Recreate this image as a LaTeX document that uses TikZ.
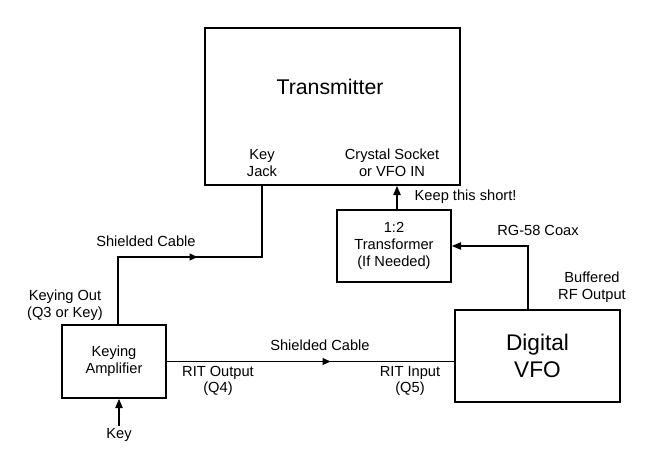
\documentclass[tikz,border=0pt]{standalone}
\usepackage{fontspec}
\setmainfont{Liberation Sans}
\usetikzlibrary{decorations.markings,arrows.meta}
\tikzset{
  blk/.style={draw,line width=1.2pt,inner sep=0pt,align=center},
  lbl/.style={align=center,font=\fontsize{11}{12.5}\selectfont},
  wire/.style={line width=1.2pt},
  midarr/.style={wire,postaction={decorate},decoration={markings,
    mark=at position #1 with {\arrow{Triangle[length=6pt,width=5pt]}}}},
  endarr/.style={wire,-{Triangle[length=7pt,width=5.5pt]}}
}
\begin{document}
\begin{tikzpicture}[x=0.0264cm,y=-0.0264cm]
  \useasboundingbox (0,0) rectangle (650,465);
  % boxes
  \node(tx)[blk,minimum width=255*0.0264cm,minimum height=157*0.0264cm] at (332.5,106.5) {};
  \node(txname)[lbl,font=\fontsize{16}{18}\selectfont] at (330,87) {Transmitter};
  \node(xf)[blk,lbl,minimum width=114*0.0264cm,minimum height=72*0.0264cm] at (394,246) {1:2\\Transformer\\(If Needed)};
  \node(vfo)[blk,minimum width=165*0.0264cm,minimum height=92*0.0264cm,font=\fontsize{17}{20}\selectfont] at (537.5,356) {Digital\\VFO};
  \node(amp)[blk,lbl,minimum width=104*0.0264cm,minimum height=73*0.0264cm] at (114,361.5) {Keying\\Amplifier};
  % port labels
  \node[lbl] at (262,163) {Key\\Jack};
  \node[lbl] at (392,163) {Crystal Socket\\or VFO IN};
  \node[lbl,anchor=west] at (410,197) {Keep this short!};
  \node[lbl] at (538,230) {RG-58 Coax};
  \node[lbl] at (592,287) {Buffered\\RF Output};
  \node[lbl] at (146,241) {Shielded Cable};
  \node[lbl] at (65,305) {Keying Out\\(Q3 or Key)};
  \node[lbl] at (320,345) {Shielded Cable};
  \node[lbl] at (218,381) {RIT Output\\(Q4)};
  \node[lbl] at (410,381) {RIT Input\\(Q5)};
  \node(key)[lbl] at (119,435) {Key};
  \coordinate (keyin) at (119,426);

  % connectors
  \draw[midarr=0.52] (amp.north -| 118,0) |- (262,257) -- (tx.south -| 262,0);
  \draw[endarr] (xf.north -| 397,0) -- (tx.south -| 397,0);
  \draw[endarr] (vfo.north -| 528,0) |- (xf.east |- 0,246);
  \draw[midarr=0.57] (amp.east) -- (vfo.west |- amp.east);
  \draw[endarr] (keyin) -- (amp.south -| 119,0);
\end{tikzpicture}
\end{document}
